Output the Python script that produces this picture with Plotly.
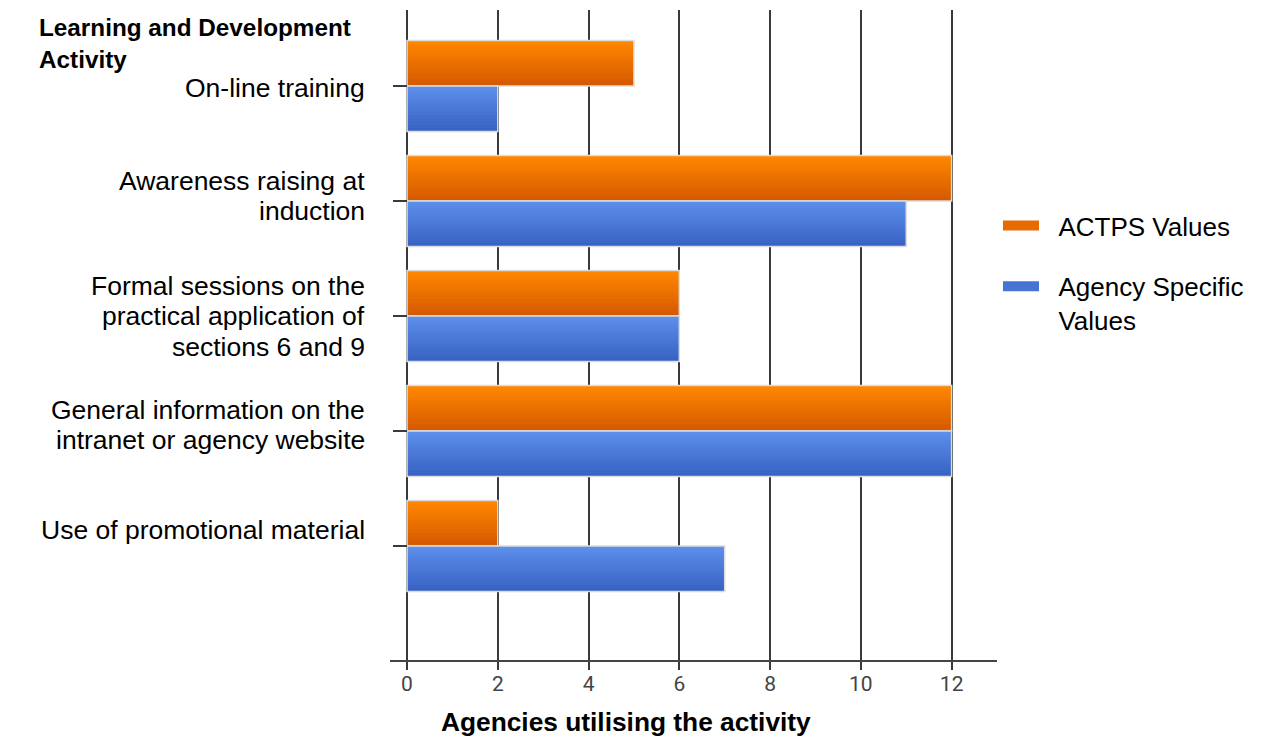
import plotly.graph_objects as go

# Data
activities = [
    "On-line training",
    "Awareness raising at\ninduction",
    "Formal sessions on the\npractical application of\nsections 6 and 9",
    "General information on the\nintranet or agency website",
    "Use of promotional material",
]
actps_values = [5, 12, 6, 12, 2]
agency_values = [2, 11, 6, 12, 7]
series_names = ["ACTPS Values", "Agency Specific\nValues"]
x_ticks = [0, 2, 4, 6, 8, 10, 12]

# Styling
FONT = "Liberation Sans, Arial, sans-serif"
ORANGE_TOP, ORANGE_BOTTOM = (255, 134, 0), (214, 90, 0)
BLUE_TOP, BLUE_BOTTOM = (92, 142, 234), (56, 99, 196)
BAR_W = 0.395
N_STRIPS = 14
LABEL_SIZE = 26.5
LINE_GAP = 30.5
label_shift = [-2, 5, 0, 6, 16]  # vertical nudge of category labels (px)

W, H = 1261, 738
L, R, T, B = 390, 997, 10, 660
x_min, x_max = -0.375, 13.0
y_top, y_bottom = -0.661, 4.991

pos = list(range(len(activities)))


def mix(c1, c2, t):
    return "rgb(%d,%d,%d)" % tuple(round(a + (b - a) * t) for a, b in zip(c1, c2))


fig = go.Figure()


def add_gradient_bars(values, top, bottom, start_offset):
    # layered bars, each starting a little lower, give a light-to-dark shading
    h = BAR_W / N_STRIPS
    for k in range(N_STRIPS):
        fig.add_trace(go.Bar(
            y=pos, x=values, orientation="h",
            width=BAR_W - k * h, offset=start_offset + k * h,
            marker=dict(color=mix(top, bottom, k / (N_STRIPS - 1)), line=dict(width=0)),
            showlegend=False, hoverinfo="x" if k == 0 else "skip",
        ))
    # thin pale outline around the whole bar
    fig.add_trace(go.Bar(
        y=pos, x=values, orientation="h",
        width=BAR_W, offset=start_offset,
        marker=dict(color="rgba(0,0,0,0)", line=dict(color="#dcdcdc", width=1.5)),
        showlegend=False, hoverinfo="skip",
    ))


add_gradient_bars(actps_values, ORANGE_TOP, ORANGE_BOTTOM, -BAR_W)
add_gradient_bars(agency_values, BLUE_TOP, BLUE_BOTTOM, 0)

# legend entries (wide swatches, text set a little apart from the swatch)
PAD = "\u00a0\u00a0"
for name, top, bottom, grp in [
    (series_names[0], ORANGE_TOP, ORANGE_BOTTOM, "a"),
    (series_names[1], BLUE_TOP, BLUE_BOTTOM, "b"),
]:
    fig.add_trace(go.Scatter(
        x=[None], y=[None], mode="lines", legendgroup=grp,
        name="<br>".join(PAD + part for part in name.split("\n")),
        line=dict(color=mix(top, bottom, 0.6), width=12),
    ))

# category labels, one line at a time for tighter line spacing
for i, lab in enumerate(activities):
    lines = lab.split("\n")
    n = len(lines)
    for j, line in enumerate(lines):
        fig.add_annotation(
            x=(367 - L) / (R - L), xref="paper", xanchor="right",
            y=pos[i], yref="y", yanchor="middle",
            yshift=label_shift[i] + ((n - 1) / 2 - j) * LINE_GAP,
            text=line, showarrow=False,
            font=dict(family=FONT, size=LABEL_SIZE, color="#000"),
        )

# chart heading
fig.add_annotation(
    x=(37 - L) / (R - L), xref="paper", xanchor="left",
    y=(B - 12) / (B - T), yref="paper", yanchor="top",
    text="<b>Learning and Development<br>Activity</b>", align="left",
    showarrow=False, font=dict(family=FONT, size=24.3, color="#000"),
)

# x axis title
fig.add_annotation(
    x=(626 - L) / (R - L), xref="paper", xanchor="center",
    y=(B - 722) / (B - T), yref="paper", yanchor="middle",
    text="<b>Agencies utilising the activity</b>", showarrow=False,
    font=dict(family=FONT, size=26.3, color="#000"),
)

fig.update_layout(
    width=W, height=H,
    margin=dict(l=L, r=W - R, t=T, b=H - B, pad=0, autoexpand=False),
    paper_bgcolor="white", plot_bgcolor="white",
    barmode="overlay",
    xaxis=dict(
        range=[x_min, x_max], tickvals=x_ticks, ticktext=[str(v) for v in x_ticks],
        showgrid=True, gridcolor="#3a3a3a", gridwidth=2,
        zeroline=False, showline=True, linecolor="#444", linewidth=2,
        ticks="outside", ticklen=8, tickwidth=2, tickcolor="#3a3a3a",
        ticklabelstandoff=-4,
        tickfont=dict(family="Roboto, sans-serif", size=21, color="#444"),
    ),
    yaxis=dict(
        range=[y_bottom, y_top], tickvals=pos, showticklabels=False,
        showgrid=False, zeroline=False, showline=False,
        anchor="free", position=(0 - x_min) / (x_max - x_min),
        ticks="outside", ticklen=14, tickwidth=2, tickcolor="#3a3a3a",
    ),
    legend=dict(
        x=998 / W, xref="container", xanchor="left",
        y=1 - 202 / H, yref="container", yanchor="top",
        font=dict(family=FONT, size=26, color="#000"),
        valign="top", traceorder="grouped", tracegroupgap=24,
        itemwidth=36,
    ),
    showlegend=True,
)

fig.write_html("out.html")
